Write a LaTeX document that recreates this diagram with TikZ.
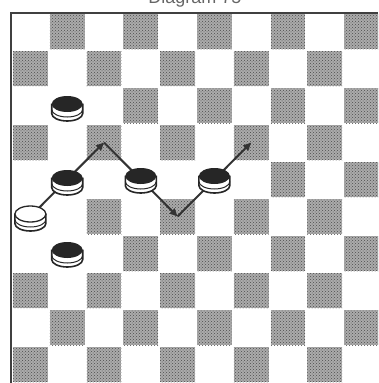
\documentclass[tikz,border=0pt]{standalone}
\usepackage{fontspec}
\setmainfont{Liberation Sans}
\usetikzlibrary{patterns,arrows.meta}
\tikzset{
  darksq/.style={fill=black!33, postaction={pattern=crosshatch dots, pattern color=black!70}},
  boardedge/.style={draw=black!75, line width=2.2pt, line join=miter},
  move/.style={draw=black!80, line width=2pt, -{Triangle[length=8pt,width=7pt]}},
  blackpiece/.pic={
    \path[fill=white,draw=black!85,line width=1.6pt] (-15.5,-4) -- (-15.5,5) arc[start angle=180,end angle=0,x radius=15.5,y radius=7.5] -- (15.5,-4) -- cycle;
    \draw[black!85, line width=1pt] (-15.5,1) arc[start angle=180,end angle=0,x radius=15.5,y radius=7.5];
    \fill[black!85] (0,-4.5) ellipse[x radius=15.5,y radius=8];
  },
  whitepiece/.pic={
    \path[fill=white,draw=black!85,line width=1.6pt] (-15.5,-4) -- (-15.5,5) arc[start angle=180,end angle=0,x radius=15.5,y radius=7.5] -- (15.5,-4) -- cycle;
    \draw[black!85, line width=1pt] (-15.5,1) arc[start angle=180,end angle=0,x radius=15.5,y radius=7.5];
    \draw[fill=white,draw=black!85,line width=1.3pt] (0,-4.5) ellipse[x radius=15.5,y radius=8];
  },
}
\begin{document}
\begin{tikzpicture}[x=1pt,y=-1pt]
\useasboundingbox (0,0) rectangle (378,383);
\clip (0,0) rectangle (378,383);
\fill[white] (0,0) rectangle (378,383);
% title (cut off at the top edge, as in the reference)
\node[font=\fontsize{18}{20}\selectfont, anchor=base, text=black!60] (title) at (195,3) {Diagram 75};
% squares
\foreach \r in {0,...,9}{
  \foreach \c in {0,...,9}{
    \coordinate (s\c\r) at ({12+36.8*(\c+0.5)},{13+37*(\r+0.5)});
    \pgfmathtruncatemacro{\sqpar}{mod(\r+\c,2)}
    \ifnum\sqpar=1
      \path[darksq] ({12+36.8*\c+1},{13+37*\r+1}) rectangle ++(34.8,35);
    \fi
  }
}
% occupied squares are shown plain
\foreach \c/\r in {1/2,1/4,3/4,5/4,1/6,0/5}{
  \fill[white] ({12+36.8*\c},{13+37*\r}) rectangle ++(36.8,37);
}
% board edges
\draw[boardedge] (11,383) -- (11,13) -- (378,13);
% moves
\draw[move] (s05) -- (s23);
\draw[move] (s23) -- (s45);
\draw[move] (s45) -- (s63);
% pieces
\path (s12) ++(0,3) pic{blackpiece};
\path (s14) ++(0,3) pic{blackpiece};
\path (s34) ++(0,1) pic{blackpiece};
\path (s54) ++(0,1) pic{blackpiece};
\path (s16) ++(0,1) pic{blackpiece};
\path (s05) ++(0,2) pic{whitepiece};
\end{tikzpicture}
\end{document}
